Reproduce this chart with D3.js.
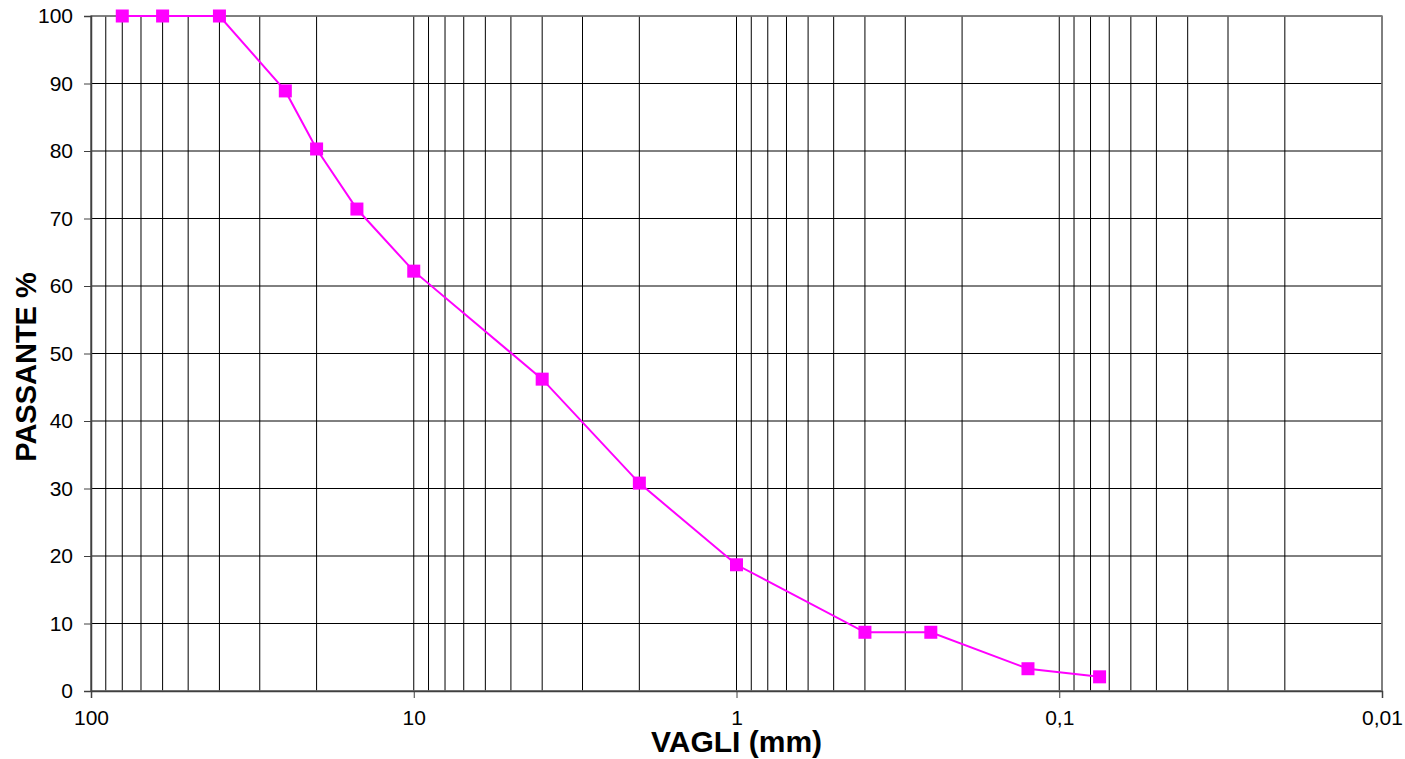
<!DOCTYPE html>
<html>
<head>
<meta charset="utf-8">
<script src="https://cdn.jsdelivr.net/npm/d3@7"></script>
<style>
  body { margin: 0; background: #fff; }
  text { font-family: "Liberation Sans", Arial, sans-serif; }
</style>
</head>
<body>
<div id="chart-area"></div>
<script>
// sieve openings (mm) and passing percentage
var sieves = [80, 60, 40, 25, 20, 15, 10, 4, 2, 1, 0.4, 0.25, 0.125, 0.075];
var passing = [100, 100, 100, 88.9, 80.3, 71.4, 62.2, 46.2, 30.8, 18.7, 8.7, 8.7, 3.3, 2.1];

var xTicks = [100, 10, 1, 0.1, 0.01];
var xTickLabels = ["100", "10", "1", "0,1", "0,01"];
var yTicks = [0, 10, 20, 30, 40, 50, 60, 70, 80, 90, 100];

var W = 1405, H = 759;
var margin = { left: 91, right: 23, top: 16, bottom: 68 },
  width = W - margin.left - margin.right,
  height = H - margin.top - margin.bottom;

var svg = d3
  .select("#chart-area")
  .append("svg")
  .attr("width", W)
  .attr("height", H);
var g = svg
  .append("g")
  .attr("transform", "translate(" + margin.left + ", " + margin.top + ")");

// Scales
var x = d3.scaleLog().domain([100, 0.01]).range([0, width]);
var y = d3.scaleLinear().domain([0, 100]).range([height, 0]);

// Vertical grid (log minor lines)
var gridX = x.ticks().filter(function(d) {
  return d <= 100 && d >= 0.01;
});
g.append("g")
  .selectAll("line")
  .data(gridX)
  .enter()
  .append("line")
  .attr("x1", function(d) { return x(d); })
  .attr("x2", function(d) { return x(d); })
  .attr("y1", 0)
  .attr("y2", height)
  .attr("stroke", "#000")
  .attr("stroke-width", 1);

// Horizontal grid
g.append("g")
  .selectAll("line")
  .data(yTicks)
  .enter()
  .append("line")
  .attr("x1", 0)
  .attr("x2", width)
  .attr("y1", function(d) { return y(d); })
  .attr("y2", function(d) { return y(d); })
  .attr("stroke", "#000")
  .attr("stroke-width", 1);

// Plot border
g.append("rect")
  .attr("width", width)
  .attr("height", height)
  .attr("fill", "none")
  .attr("stroke", "#808080")
  .attr("stroke-width", 1.5);

// Y-axis
var yAxisCall = d3.axisLeft(y).tickValues(yTicks).tickSize(7).tickPadding(11);
var yAxis = g.append("g").attr("class", "y axis").call(yAxisCall);

// X-axis
var xAxisCall = d3
  .axisBottom(x)
  .tickValues(xTicks)
  .tickSize(7)
  .tickPadding(12)
  .tickFormat(function(d, i) { return xTickLabels[i]; });
var xAxis = g
  .append("g")
  .attr("class", "x axis")
  .attr("transform", "translate(0," + height + ")")
  .call(xAxisCall);

g.selectAll(".axis path").attr("stroke", "#404040").attr("stroke-width", 1.5);
g.selectAll(".axis line").attr("stroke", "#404040");
g.selectAll(".axis text")
  .attr("font-size", "21px")
  .attr("fill", "#000")
  .style("font-family", "'Liberation Sans', Arial, sans-serif");

// Line
var pts = sieves.map(function(s, i) {
  return { size: s, pass: passing[i] };
});
var line = d3
  .line()
  .x(function(d) { return x(d.size); })
  .y(function(d) { return y(d.pass); });

g.append("path")
  .attr("fill", "none")
  .attr("stroke", "#ff00ff")
  .attr("stroke-width", 2)
  .attr("d", line(pts));

var ms = 13;
g.append("g")
  .selectAll("rect")
  .data(pts)
  .enter()
  .append("rect")
  .attr("x", function(d) { return x(d.size) - ms / 2; })
  .attr("y", function(d) { return y(d.pass) - ms / 2; })
  .attr("width", ms)
  .attr("height", ms)
  .attr("fill", "#ff00ff");

// Labels
svg.append("text")
  .attr("x", margin.left + width / 2)
  .attr("y", 752)
  .attr("font-size", "30px")
  .attr("font-weight", "bold")
  .attr("text-anchor", "middle")
  .text("VAGLI (mm)");

svg.append("text")
  .attr("transform", "translate(36,367) rotate(-90)")
  .attr("font-size", "29px")
  .attr("font-weight", "bold")
  .attr("text-anchor", "middle")
  .text("PASSANTE %");
</script>
</body>
</html>
